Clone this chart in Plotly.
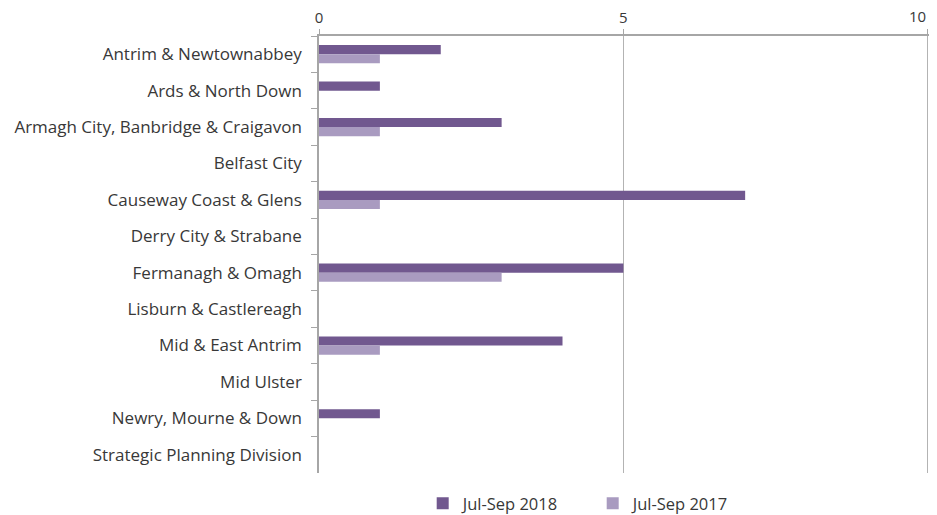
import plotly.graph_objects as go

areas = [
    'Antrim & Newtownabbey',
    'Ards & North Down',
    'Armagh City, Banbridge & Craigavon',
    'Belfast City',
    'Causeway Coast & Glens',
    'Derry City & Strabane',
    'Fermanagh & Omagh',
    'Lisburn & Castlereagh',
    'Mid & East Antrim',
    'Mid Ulster',
    'Newry, Mourne & Down',
    'Strategic Planning Division',
]
jul_sep_2018 = [2, 1, 3, 0, 7, 0, 5, 0, 4, 0, 1, 0]
jul_sep_2017 = [1, 0, 1, 0, 1, 0, 3, 0, 1, 0, 0, 0]
x_ticks = [0, 5, 10]
x_tick_text = ['0', '5', '']  # "10" is drawn as an annotation so it stays inside the window

fig = go.Figure()
fig.add_trace(go.Bar(
    y=areas, x=jul_sep_2018, orientation='h', name='Jul-Sep 2018',
    marker=dict(color='#71588f', line=dict(width=0)),
))
fig.add_trace(go.Bar(
    y=areas, x=jul_sep_2017, orientation='h', name='Jul-Sep 2017',
    marker=dict(color='#a99bc0', line=dict(width=0)),
))

# page body adds ~8px offset; margins are set so the plot area lands where the original is
fig.update_layout(
    width=937, height=515,
    margin=dict(l=311, r=16, t=28, b=50, autoexpand=False),
    barmode='group', bargap=0.5, bargroupgap=0,
    plot_bgcolor='white', paper_bgcolor='white',
    font=dict(family='Open Sans, sans-serif', size=17, color='#383838'),
    legend=dict(orientation='h', x=0.170, xanchor='left', y=-0.07, yanchor='middle',
                font=dict(size=16.5), entrywidth=125, itemwidth=30, traceorder='normal'),
)
fig.add_annotation(
    x=x_ticks[-1], xref='x', y=1, yref='paper', text=str(x_ticks[-1]),
    xanchor='right', yanchor='bottom', yshift=8, showarrow=False,
    font=dict(size=15, color='#383838'),
)
fig.update_xaxes(
    side='top', range=[0, 10.02], tickvals=x_ticks, ticktext=x_tick_text, automargin=False,
    tickfont=dict(size=15),
    showgrid=True, gridcolor='#b3b3b3', gridwidth=1,
    showline=True, linecolor='#a6a6a6', linewidth=1.5,
    ticks='outside', ticklen=5, tickcolor='#a6a6a6',
    zeroline=False, fixedrange=True,
)
fig.update_yaxes(
    autorange='reversed', tickson='boundaries', automargin=False,
    showline=True, linecolor='#a6a6a6', linewidth=1.5,
    ticks='outside', ticklen=6, tickcolor='#a6a6a6',
    ticklabelstandoff=12, showgrid=False,
)

fig.write_html("out.html")
